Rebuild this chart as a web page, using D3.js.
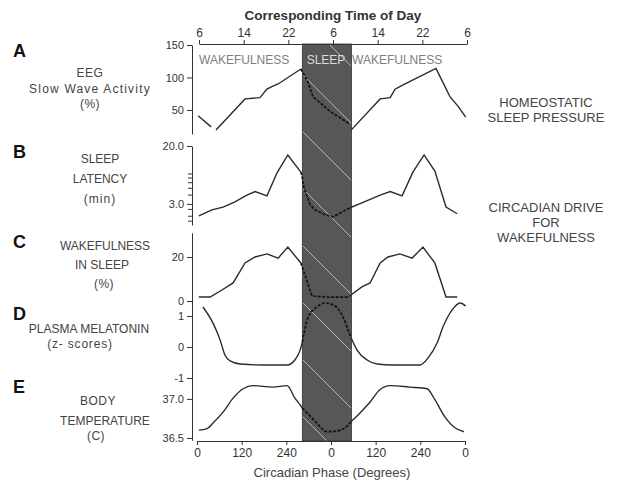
<!DOCTYPE html>
<html lang="en">
<head>
<meta charset="utf-8">
<title>Sleep and circadian phase</title>
<script src="https://d3js.org/d3.v7.min.js"></script>
<style>
body { margin: 0; background: white; }
text { font-family: "Liberation Sans", Arial, sans-serif; }
</style>
</head>
<body>
<div id="chart"></div>
<script>

// data: [circadian phase in degrees over two cycles (0-720), value]
// A - EEG slow wave activity (%)
var swaWake1 = [[3,41],[38,24]];
var swaWake2 = [[51,19],[129,67],[169,69],[188,82],[201,86],[218,90],[279,113]];
var swaSleep = [[279,113],[296,96],[312,70],[331,61],[357,48],[384,38],[411,28]];
var swaWake3 = [[414,19],[492,67],[519,69],[532,82],[545,86],[559,90],[642,114],[661,92],[680,70],[701,56],[722,39]];

// B - sleep latency (min, log)
var latWake1 = [[5,2.03],[40,2.46],[70,2.7],[102,3.2],[134,4.0],[156,4.5],[188,3.9],[215,8.3],[244,14.9],[279,8.5]];
var latSleep = [[279,8.5],[282,7.7],[287,5.2],[304,2.9],[317,2.46],[344,2.1],[365,1.96],[411,2.64]];
var latWake2 = [[411,2.64],[443,3.1],[492,4.0],[519,4.5],[551,3.9],[580,8.5],[610,14.9],[639,8.8],[669,2.7],[699,2.17]];

// C - wakefulness in sleep (%)
var wisWake1 = [[5,1.8],[35,1.8],[67,5],[97,8.2],[129,17.3],[156,20],[188,21.4],[218,19.5],[244,24.5],[279,17.3]];
var wisSleep = [[279,17.3],[309,2.3],[349,1.8],[406,1.8]];
var wisWake2 = [[406,1.8],[443,6.4],[465,8.2],[492,17.3],[513,20],[545,21.4],[578,19.5],[607,24.5],[639,17.3],[669,1.8],[699,1.8]];

// D - plasma melatonin (z-scores)
var melWake1 = [[16,1.29],[43,0.77],[62,0.23],[75,-0.26],[89,-0.45],[116,-0.55],[177,-0.58],[242,-0.58],[263,-0.42],[277,-0.1],[283,0.16]];
var melSleep = [[283,0.16],[298,0.94],[322,1.29],[344,1.42],[371,1.32],[392,0.97],[411,0.39],[414,0.3]];
var melWake2 = [[414,0.3],[430,-0.1],[457,-0.42],[484,-0.55],[527,-0.58],[599,-0.58],[621,-0.35],[645,0.13],[661,0.65],[685,1.19],[707,1.42],[722,1.32]];

// E - body temperature (C)
var tmpWake1 = [[5,36.60],[27,36.62],[43,36.69],[70,36.83],[97,37.01],[124,37.13],[150,37.17],[204,37.15],[242,37.17],[263,37.01],[279,36.91],[283,36.88]];
var tmpSleep = [[283,36.88],[296,36.82],[322,36.69],[349,36.58],[376,36.59],[398,36.63],[414,36.71]];
var tmpWake2 = [[414,36.71],[438,36.82],[465,36.96],[492,37.12],[519,37.17],[572,37.15],[618,37.13],[639,36.99],[666,36.77],[693,36.63],[717,36.58]];

// axes labels
var phaseTicks = [0,120,240,360,480,600,720];
var hourTicks = [6,14,22,30,38,46,54];
var sleepStart = 283, sleepEnd = 415;

//layout
var w = 621, h = 483;
var axisX = 192;

var svg = d3.select("#chart").append("svg")
    .attr("width", w).attr("height", h);

var x = d3.scaleLinear().domain([0, 720]).range([197, 465]);
var xh = d3.scaleLinear().domain([6, 54]).range([199, 467]);

// hatch pattern for sleep band
var defs = svg.append("defs");
var pat = defs.append("pattern")
    .attr("id", "hatch")
    .attr("patternUnits", "userSpaceOnUse")
    .attr("width", 57).attr("height", 57);
pat.append("rect").attr("width", 57).attr("height", 57).attr("fill", "#575757");
pat.append("line").attr("x1", 0).attr("y1", 0).attr("x2", 57).attr("y2", 57)
    .attr("stroke", "#e8e8e8").attr("stroke-width", 0.8).attr("opacity", 0.8);

svg.append("rect")
    .attr("x", x(sleepStart))
    .attr("y", 44)
    .attr("width", x(sleepEnd) - x(sleepStart))
    .attr("height", 441 - 44)
    .attr("fill", "url(#hatch)")
    .attr("stroke", "#333")
    .attr("stroke-width", 0.8);

// plain hyphen for negative numbers, like the original
function plain(dec) {
    return function(d) {return d.toFixed(dec);};
}

// panels
var panels = [
    {y: d3.scaleLinear().domain([13, 150]).range([134, 45]), ticks: [50,100,150], fmt: plain(0),
     segs: [swaWake1, swaWake2, swaSleep, swaWake3], dashed: [false,false,true,false], curve: d3.curveLinear},
    {y: d3.scaleLog().domain([1.5, 20]).range([225, 146]), ticks: [3,20], fmt: plain(1),
     minor: [1.7,2,2.5,4,5,6,7,8],
     segs: [latWake1, latSleep, latWake2], dashed: [false,true,false], curve: d3.curveLinear},
    {y: d3.scaleLinear().domain([0, 31]).range([301, 232.8]), ticks: [0,20], fmt: plain(0),
     segs: [wisWake1, wisSleep, wisWake2], dashed: [false,true,false], curve: d3.curveLinear},
    {y: d3.scaleLinear().domain([-1, 1.5]).range([378, 300.5]), ticks: [-1,0,1], fmt: plain(0),
     segs: [melWake1, melSleep, melWake2], dashed: [false,true,false], curve: d3.curveMonotoneX},
    {y: d3.scaleLinear().domain([36.47, 37.28]).range([440.3, 377]), ticks: [36.5,37.0], fmt: plain(1),
     segs: [tmpWake1, tmpSleep, tmpWake2], dashed: [false,true,false], curve: d3.curveMonotoneX}
];

panels.forEach(function(p) {
    var g = svg.append("g")
        .attr("transform", "translate(" + axisX + ",0)")
        .call(d3.axisLeft(p.y).tickValues(p.ticks).tickFormat(p.fmt).tickSize(5).tickSizeOuter(0));
    styleAxis(g, 11);

    if (p.minor) {
        g.selectAll(".minor")
            .data(p.minor)
            .enter()
            .append("line")
            .attr("x1", -4).attr("x2", 0)
            .attr("y1", function(d) {return p.y(d);})
            .attr("y2", function(d) {return p.y(d);})
            .attr("stroke", "#333");
    }

    var line = d3.line()
        .x(function(d) {return x(d[0]);})
        .y(function(d) {return p.y(d[1]);})
        .curve(p.curve);

    p.segs.forEach(function(s, i) {
        svg.append("path")
            .attr("d", line(s))
            .attr("fill", "none")
            .attr("stroke", p.dashed[i] ? "#111" : "#2b2b2b")
            .attr("stroke-width", p.dashed[i] ? 1.7 : 1.4)
            .attr("stroke-dasharray", p.dashed[i] ? "3,1.5" : null);
    });
});

function styleAxis(g, size) {
    g.attr("font-family", null).attr("font-size", null);
    g.selectAll("path, line").attr("stroke", "#333");
    g.selectAll("text").style("font-size", size + "px").attr("fill", "#333");
}

// bottom axis
var gb = svg.append("g")
    .attr("transform", "translate(0,441)")
    .call(d3.axisBottom(x).tickValues(phaseTicks).tickFormat(function(d) {return d % 360;}).tickSize(4).tickSizeOuter(0));
styleAxis(gb, 12);

// top axis
var gt = svg.append("g")
    .attr("transform", "translate(0,44)")
    .call(d3.axisTop(xh).tickValues(hourTicks).tickFormat(function(d) {return d % 24;}).tickSize(4).tickSizeOuter(0));
styleAxis(gt, 12);

svg.append("text")
    .attr("x", 333).attr("y", 20)
    .attr("text-anchor", "middle")
    .style("font-size", "13.5px").style("font-weight", "bold")
    .attr("fill", "#333")
    .text("Corresponding Time of Day");

svg.append("text")
    .attr("x", 332).attr("y", 477)
    .attr("text-anchor", "middle")
    .style("font-size", "13px")
    .attr("fill", "#444")
    .text("Circadian Phase (Degrees)");

// state labels
svg.append("text").attr("x", 199).attr("y", 63.5)
    .style("font-size", "12px").attr("fill", "#7d7d7d").text("WAKEFULNESS");
svg.append("text").attr("x", 352).attr("y", 63.5)
    .style("font-size", "12px").attr("fill", "#7d7d7d").text("WAKEFULNESS");
svg.append("text").attr("x", 326).attr("y", 63.5)
    .attr("text-anchor", "middle")
    .style("font-size", "12px").attr("fill", "#dcdcdc").text("SLEEP");

// panel letters
var letters = [["A",57],["B",158],["C",248],["D",320],["E",393]];
svg.selectAll(".letter")
    .data(letters)
    .enter()
    .append("text")
    .attr("x", 13)
    .attr("y", function(d) {return d[1];})
    .style("font-size", "18px").style("font-weight", "bold")
    .attr("fill", "#111")
    .text(function(d) {return d[0];});

// panel titles [text, x, baseline, letter spacing]
var titles = [
    ["EEG", 90, 77, 0.5], ["Slow Wave Activity", 90, 93, 1.2], ["(%)", 90, 108, 0.5],
    ["SLEEP", 100, 163, 0], ["LATENCY", 100, 183, 0], ["(min)", 100, 203, 1],
    ["WAKEFULNESS", 105, 250, 0], ["IN SLEEP", 102, 269, 0], ["(%)", 104, 288, 0.5],
    ["PLASMA MELATONIN", 89, 333, 0], ["(z- scores)", 80, 348, 0.8],
    ["BODY", 98, 405, 0.5], ["TEMPERATURE", 105, 425, 0], ["(C)", 96, 440, 0.5]
];
svg.selectAll(".title")
    .data(titles)
    .enter()
    .append("text")
    .attr("x", function(d) {return d[1];})
    .attr("y", function(d) {return d[2];})
    .attr("text-anchor", "middle")
    .style("font-size", "12px")
    .style("letter-spacing", function(d) {return d[3] + "px";})
    .attr("fill", "#444")
    .text(function(d) {return d[0];});

// right side notes
var notes = [
    ["HOMEOSTATIC", 107], ["SLEEP PRESSURE", 122],
    ["CIRCADIAN DRIVE", 212], ["FOR", 227], ["WAKEFULNESS", 242]
];
svg.selectAll(".note")
    .data(notes)
    .enter()
    .append("text")
    .attr("x", 546)
    .attr("y", function(d) {return d[1];})
    .attr("text-anchor", "middle")
    .style("font-size", "13px")
    .attr("fill", "#444")
    .text(function(d) {return d[0];});

</script>
</body>
</html>
